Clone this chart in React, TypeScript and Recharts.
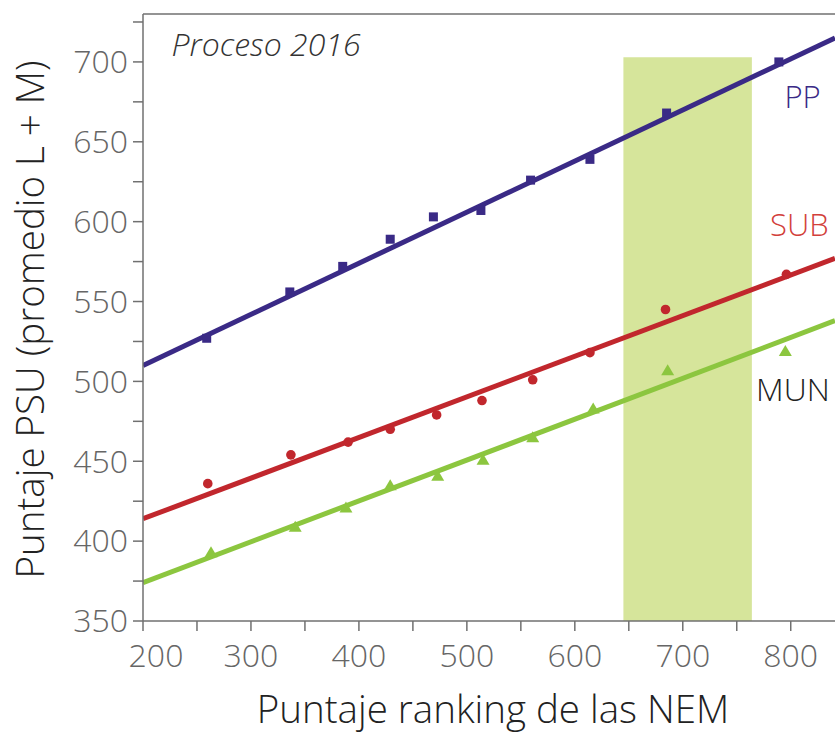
import {
  ComposedChart,
  Line,
  Scatter,
  XAxis,
  YAxis,
  ReferenceArea,
  ReferenceLine,
  ReferenceDot,
} from 'recharts';

// puntos observados (ranking NEM -> PSU promedio L+M)
const ppPoints = [
  { x: 259, y: 527 },
  { x: 336, y: 556 },
  { x: 385, y: 572 },
  { x: 429, y: 589 },
  { x: 469, y: 603 },
  { x: 513, y: 607 },
  { x: 559, y: 626 },
  { x: 614, y: 639 },
  { x: 685, y: 668 },
  { x: 789, y: 700 },
];

const subPoints = [
  { x: 260, y: 436 },
  { x: 337, y: 454 },
  { x: 390, y: 462 },
  { x: 429, y: 470 },
  { x: 472, y: 479 },
  { x: 514, y: 488 },
  { x: 561, y: 501 },
  { x: 614, y: 518 },
  { x: 684, y: 545 },
  { x: 796, y: 567 },
];

const munPoints = [
  { x: 263, y: 393 },
  { x: 341, y: 409 },
  { x: 388, y: 421 },
  { x: 429, y: 435 },
  { x: 473, y: 441 },
  { x: 515, y: 451 },
  { x: 561, y: 465 },
  { x: 617, y: 483 },
  { x: 686, y: 507 },
  { x: 795, y: 519 },
];

// rectas de ajuste (extremos)
const ppFit = [
  { x: 200, y: 510 },
  { x: 841, y: 715 },
];
const subFit = [
  { x: 200, y: 414 },
  { x: 841, y: 577 },
];
const munFit = [
  { x: 200, y: 374 },
  { x: 841, y: 538 },
];

const xTicks = [200, 250, 300, 350, 400, 450, 500, 550, 600, 650, 700, 750, 800];
const yTicks = [350, 375, 400, 425, 450, 475, 500, 525, 550, 575, 600, 625, 650, 675, 700, 725];

const FONT = "'Open Sans', sans-serif";
const PP_COLOR = '#3a2a86';
const SUB_COLOR = '#c1272d';
const MUN_COLOR = '#8cc63f';
const AXIS_COLOR = '#707070';
const TICK_COLOR = '#666666';

const SquareMark = (props: any) => {
  const { cx, cy } = props;
  return <rect x={cx - 4.5} y={cy - 4.5} width={9} height={9} fill={PP_COLOR} />;
};

const CircleMark = (props: any) => {
  const { cx, cy } = props;
  return <circle cx={cx} cy={cy} r={4.8} fill={SUB_COLOR} />;
};

const TriangleMark = (props: any) => {
  const { cx, cy } = props;
  return (
    <polygon
      points={`${cx},${cy - 6} ${cx - 6.5},${cy + 5} ${cx + 6.5},${cy + 5}`}
      fill={MUN_COLOR}
    />
  );
};

const XTick = (props: any) => {
  const { x, y, payload } = props;
  if (payload.value % 100 !== 0) return null;
  const shift = payload.value === 200 ? 13 : 0;
  return (
    <text
      x={x + shift}
      y={y}
      dy="0.71em"
      textAnchor="middle"
      fill={TICK_COLOR}
      fontSize={32}
      fontWeight={300}
      fontFamily={FONT}
    >
      {payload.value}
    </text>
  );
};

export default function App() {
  return (
    <div style={{ position: 'absolute', left: 0, top: 0, background: '#fff' }}>
      <ComposedChart
        width={835}
        height={734}
        margin={{ top: 14, right: 0, bottom: 0, left: 0 }}
      >
        <XAxis
          type="number"
          dataKey="x"
          domain={[200, 841]}
          allowDataOverflow
          ticks={xTicks}
          interval={0}
          tick={<XTick />}
          tickSize={10}
          tickMargin={13}
          height={113}
          stroke={AXIS_COLOR}
          strokeWidth={1.5}
          label={{
            value: 'Puntaje ranking de las NEM',
            position: 'insideBottom',
            offset: 11,
            dx: 4,
            fontSize: 38.5,
            fontWeight: 300,
            fill: '#222',
            fontFamily: FONT,
          }}
        />
        <YAxis
          type="number"
          dataKey="y"
          domain={[350, 730]}
          allowDataOverflow
          ticks={yTicks}
          interval={0}
          tickFormatter={(v: number) => (v % 50 === 0 ? String(v) : '')}
          tickSize={10}
          tickMargin={5}
          width={143}
          stroke={AXIS_COLOR}
          strokeWidth={1.5}
          tick={{ fontSize: 32, fontWeight: 300, fill: TICK_COLOR, fontFamily: FONT }}
          label={{
            value: 'Puntaje PSU (promedio L + M)',
            angle: -90,
            position: 'center',
            dx: -41,
            dy: 2,
            fontSize: 38.5,
            fontWeight: 300,
            fill: '#222',
            fontFamily: FONT,
          }}
        />
        <ReferenceArea
          x1={645}
          x2={764}
          y1={350}
          y2={703}
          fill="#d6e59b"
          fillOpacity={1}
          stroke="none"
        />
        <ReferenceLine y={730} stroke={AXIS_COLOR} strokeWidth={1.5} />
        <Scatter data={ppPoints} shape={<SquareMark />} isAnimationActive={false} />
        <Scatter data={subPoints} shape={<CircleMark />} isAnimationActive={false} />
        <Scatter data={munPoints} shape={<TriangleMark />} isAnimationActive={false} />
        <Line
          data={ppFit}
          dataKey="y"
          stroke={PP_COLOR}
          strokeWidth={5}
          dot={false}
          activeDot={false}
          type="linear"
          isAnimationActive={false}
        />
        <Line
          data={subFit}
          dataKey="y"
          stroke={SUB_COLOR}
          strokeWidth={5}
          dot={false}
          activeDot={false}
          type="linear"
          isAnimationActive={false}
        />
        <Line
          data={munFit}
          dataKey="y"
          stroke={MUN_COLOR}
          strokeWidth={5}
          dot={false}
          activeDot={false}
          type="linear"
          isAnimationActive={false}
        />
        <ReferenceDot
          x={314}
          y={711}
          r={1}
          fillOpacity={0}
          stroke="none"
          label={{
            value: 'Proceso 2016',
            position: 'center',
            fontSize: 32,
            fontWeight: 300,
            fontStyle: 'italic',
            fill: '#333',
            fontFamily: FONT,
          }}
        />
        <ReferenceDot
          x={811}
          y={678}
          r={1}
          fillOpacity={0}
          stroke="none"
          label={{ value: 'PP', position: 'center', fontSize: 31, fontWeight: 300, fill: PP_COLOR, fontFamily: FONT }}
        />
        <ReferenceDot
          x={808}
          y={598}
          r={1}
          fillOpacity={0}
          stroke="none"
          label={{ value: 'SUB', position: 'center', fontSize: 31, fontWeight: 300, fill: '#d2403a', fontFamily: FONT }}
        />
        <ReferenceDot
          x={802}
          y={495}
          r={1}
          fillOpacity={0}
          stroke="none"
          label={{ value: 'MUN', position: 'center', fontSize: 32, fontWeight: 300, fill: '#222', fontFamily: FONT }}
        />
      </ComposedChart>
    </div>
  );
}
